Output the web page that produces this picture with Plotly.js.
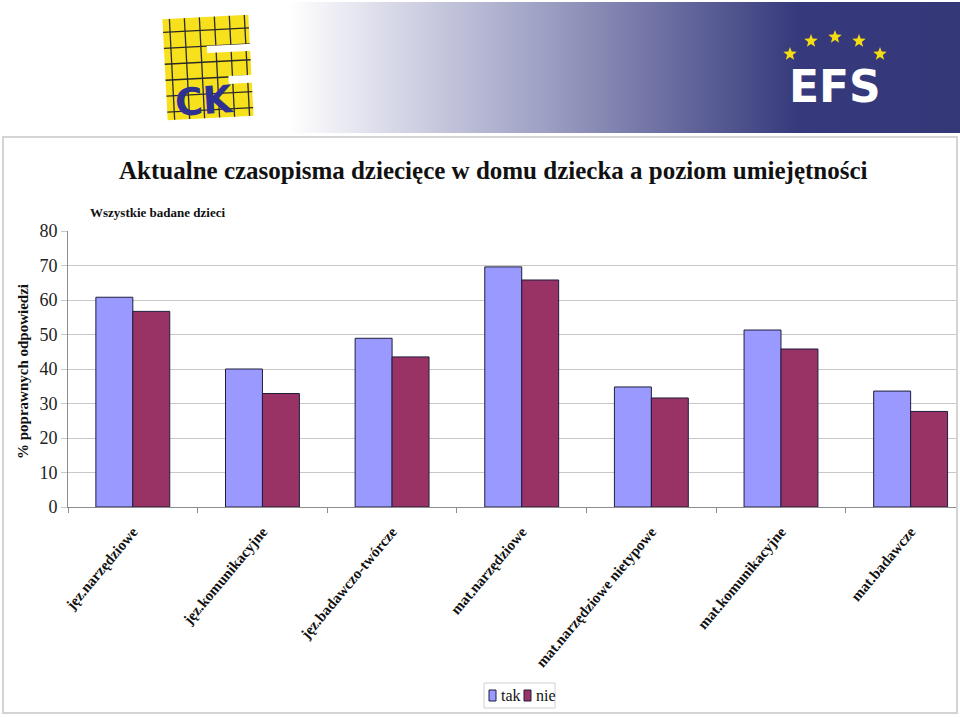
<!DOCTYPE html>
<html>
<head>
<meta charset="utf-8">
<script src="https://cdn.plot.ly/plotly-3.0.1.min.js"></script>
<style>
  html, body { margin: 0; padding: 0; background: #fff; }
  #plot { width: 960px; height: 717px; }
</style>
</head>
<body>
<div id="plot"></div>
<script>
// Values
const categories = ['jęz.narzędziowe', 'jęz.komunikacyjne', 'jęz.badawczo-twórcze', 'mat.narzędziowe',
  'mat.narzędziowe nietypowe', 'mat.komunikacyjne', 'mat.badawcze'];
const tak = [60.8, 40.0, 48.9, 69.6, 34.8, 51.3, 33.6];
const nie = [56.7, 32.9, 43.5, 65.8, 31.6, 45.8, 27.7];
const yTicks = [0, 10, 20, 30, 40, 50, 60, 70, 80];
const seriesNames = ['tak', 'nie'];
const seriesColors = ['#9999ff', '#993366'];

// page geometry (px) -> paper coords
const L = 68, R = 956, T = 231, B = 507;
const W = R - L, H = B - T;
const px = x => (x - L) / W;
const py = y => (B - y) / H;

function star(cx, cy, r) {
  let pts = [];
  for (let i = 0; i < 10; i++) {
    const a = -Math.PI / 2 + i * Math.PI / 5;
    const rr = i % 2 ? r * 0.42 : r;
    pts.push((cx + rr * Math.cos(a)).toFixed(1) + ',' + (cy + rr * Math.sin(a)).toFixed(1));
  }
  return '<polygon points="' + pts.join(' ') + '" fill="#f6dc12"/>';
}

// header banner: gradient, CK logo grid, EU stars
let grid = '';
for (let x = 172; x < 252; x += 15) grid += `<line x1="${x}" y1="17" x2="${x}" y2="118" stroke="#2a2a2a" stroke-width="1.3"/>`;
for (let y = 30; y < 118; y += 16) grid += `<line x1="165" y1="${y}" x2="251" y2="${y}" stroke="#2a2a2a" stroke-width="1.3"/>`;
const svg = `<svg xmlns="http://www.w3.org/2000/svg" width="960" height="134" viewBox="0 0 960 134" preserveAspectRatio="none">
<defs><linearGradient id="g" x1="0" y1="0" x2="1" y2="0">
<stop offset="0" stop-color="#ffffff"/><stop offset="0.30" stop-color="#ffffff"/>
<stop offset="0.55" stop-color="#a4a6c8"/><stop offset="0.83" stop-color="#363a7c"/>
<stop offset="1" stop-color="#343879"/></linearGradient></defs>
<rect x="0" y="2" width="960" height="131" fill="url(#g)"/>
<g transform="rotate(-3 208 68)">
<rect x="165" y="17" width="86" height="101" fill="#f7e11c"/>
${grid}
<rect x="208" y="46" width="45" height="7" fill="#ffffff"/>
<rect x="228" y="77" width="25" height="8" fill="#ffffff"/>
</g>
${star(790, 54, 7)}${star(811, 41, 7)}${star(835, 37, 7)}${star(859, 41, 7)}${star(880, 54, 7)}
</svg>`;

const traces = [
  { type: 'bar', name: seriesNames[0], x: categories, y: tak,
    marker: { color: seriesColors[0], line: { color: '#1e1e3c', width: 1 } } },
  { type: 'bar', name: seriesNames[1], x: categories, y: nie,
    marker: { color: seriesColors[1], line: { color: '#1e1e3c', width: 1 } } }
];

const serif = 'Liberation Serif, Times New Roman, serif';

// compact legend box (drawn by hand, like the original's small key)
const legendShapes = [
  { type: 'rect', xref: 'paper', yref: 'paper', x0: px(484), x1: px(555), y0: py(708), y1: py(683),
    line: { color: '#d0d0d0', width: 1 }, fillcolor: '#ffffff' },
  { type: 'rect', xref: 'paper', yref: 'paper', x0: px(489), x1: px(496), y0: py(701), y1: py(690),
    line: { color: '#1e1e3c', width: 1 }, fillcolor: seriesColors[0] },
  { type: 'rect', xref: 'paper', yref: 'paper', x0: px(524), x1: px(531), y0: py(701), y1: py(690),
    line: { color: '#1e1e3c', width: 1 }, fillcolor: seriesColors[1] }
];
const legendText = [
  { text: seriesNames[0], xref: 'paper', yref: 'paper', x: px(499), y: py(695.5), xanchor: 'left', yanchor: 'middle',
    showarrow: false, font: { family: serif, size: 16, color: '#111' } },
  { text: seriesNames[1], xref: 'paper', yref: 'paper', x: px(534), y: py(695.5), xanchor: 'left', yanchor: 'middle',
    showarrow: false, font: { family: serif, size: 16, color: '#111' } }
];

const layout = {
  width: 960, height: 717,
  margin: { l: L, r: 960 - R, t: T, b: 717 - B },
  paper_bgcolor: '#ffffff', plot_bgcolor: '#ffffff',
  barmode: 'group', bargap: 0.43, bargroupgap: 0,
  showlegend: false,
  xaxis: {
    range: [-0.5, 6.35], type: 'category',
    showgrid: false, showline: true, linecolor: '#8c8c8c', linewidth: 1,
    ticks: 'outside', tickson: 'boundaries', ticklen: 5, tickcolor: '#8c8c8c',
    tickangle: -50, ticklabelstandoff: 9,
    tickfont: { family: serif, size: 15, color: '#111', weight: 'bold' }
  },
  yaxis: {
    range: [0, 80], tickvals: yTicks, ticktext: yTicks.map(String),
    showgrid: true, gridcolor: '#c8c8c8', gridwidth: 1,
    showline: true, linecolor: '#8c8c8c', linewidth: 1,
    ticks: 'outside', ticklen: 6, tickcolor: '#c8c8c8',
    tickfont: { family: serif, size: 18, color: '#222' },
    zeroline: false
  },
  images: [{
    source: 'data:image/svg+xml;charset=utf-8,' + encodeURIComponent(svg),
    xref: 'paper', yref: 'paper', x: px(0), y: py(0),
    sizex: 960 / W, sizey: 134 / H, sizing: 'stretch',
    xanchor: 'left', yanchor: 'top', layer: 'below'
  }],
  shapes: [{
    type: 'rect', xref: 'paper', yref: 'paper',
    x0: px(3), x1: px(957), y0: py(713), y1: py(137),
    line: { color: '#d4d4d4', width: 2 }, fillcolor: 'rgba(0,0,0,0)', layer: 'below'
  }].concat(legendShapes),
  annotations: [
    { text: 'Aktualne czasopisma dziecięce w domu dziecka a poziom umiejętności',
      xref: 'paper', yref: 'paper', x: px(493), y: py(171), xanchor: 'center', yanchor: 'middle',
      showarrow: false, font: { family: serif, size: 25, color: '#111', weight: 'bold' } },
    { text: 'Wszystkie badane dzieci',
      xref: 'paper', yref: 'paper', x: px(88), y: py(213), xanchor: 'left', yanchor: 'middle',
      showarrow: false, font: { family: serif, size: 13, color: '#111', weight: 'bold' } },
    { text: '% poprawnych odpowiedzi', textangle: -90,
      xref: 'paper', yref: 'paper', x: px(23), y: py(372), xanchor: 'center', yanchor: 'middle',
      showarrow: false, font: { family: serif, size: 15, color: '#111', weight: 'bold' } },
    { text: 'CK', textangle: -4,
      xref: 'paper', yref: 'paper', x: px(204), y: py(101), xanchor: 'center', yanchor: 'middle',
      showarrow: false, font: { family: 'DejaVu Sans, sans-serif', size: 38, color: '#2e3192', weight: 'bold' } },
    { text: 'EFS',
      xref: 'paper', yref: 'paper', x: px(835), y: py(86), xanchor: 'center', yanchor: 'middle',
      showarrow: false, font: { family: 'DejaVu Sans, sans-serif', size: 44, color: '#ffffff', weight: 'bold' } }
  ].concat(legendText)
};

Plotly.newPlot('plot', traces, layout, { displayModeBar: false, staticPlot: true });
</script>
</body>
</html>
